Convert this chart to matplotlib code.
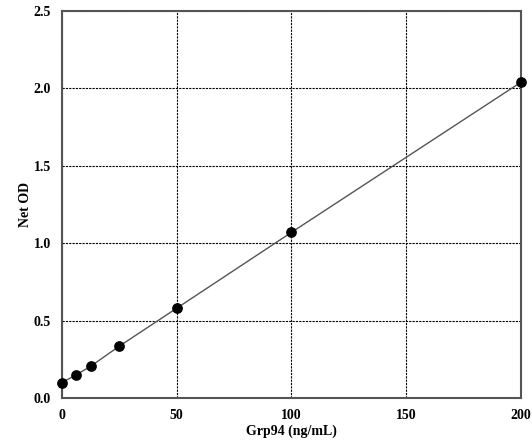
import matplotlib.pyplot as plt

conc = [0, 6.25, 12.5, 25, 50, 100, 200]
od = [0.10, 0.15, 0.205, 0.335, 0.58, 1.07, 2.04]
xticks = [0, 50, 100, 150, 200]
yticks = [0.0, 0.5, 1.0, 1.5, 2.0, 2.5]

plt.rcParams['font.family'] = ['Liberation Serif', 'DejaVu Serif']
plt.rcParams['font.weight'] = 'bold'

fig = plt.figure(figsize=(5.32, 4.43), dpi=100)
ax = fig.add_axes([0.1165, 0.1016, 0.8628, 0.8736])

ax.plot(conc, od, color='#555555', lw=1.0, zorder=2)
ax.scatter(conc, od, s=45, color='black', zorder=3, clip_on=False)

ax.set_xlim(0, 200)
ax.set_ylim(0, 2.5)
ax.set_xticks(xticks)
ax.set_yticks(yticks)
ax.set_xticklabels([str(t) for t in xticks])
ax.set_yticklabels(['%.1f' % t for t in yticks])
ax.tick_params(length=0, labelsize=10, pad=8)
for lab in ax.get_xticklabels() + ax.get_yticklabels():
    lab.set_fontweight('bold')

ax.grid(True, color='black', linestyle=(0, (2, 1)), lw=0.8)
for s in ax.spines.values():
    s.set_color('#555555')
    s.set_linewidth(1.5)

ax.set_xlabel('Grp94 (ng/mL)', fontsize=10, fontweight='bold', labelpad=2)
ax.set_ylabel('Net OD', fontsize=10, fontweight='bold', labelpad=1)

fig.savefig('out.png', dpi=100)
